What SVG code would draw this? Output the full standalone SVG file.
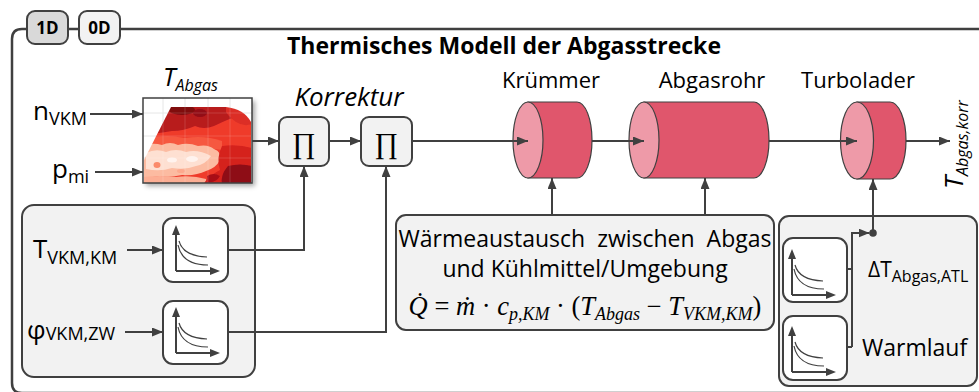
<svg xmlns="http://www.w3.org/2000/svg" xmlns:xlink="http://www.w3.org/1999/xlink" width="979" height="392" viewBox="0 0 979 392">
  <style>
    .ln { fill: none; stroke: #404040; stroke-width: 2; }
    .box { fill: #f2f2f2; stroke: #404040; stroke-width: 2; }
    .wbox { fill: #ffffff; stroke: #404040; stroke-width: 2; }
    .body { fill: #e0566c; stroke: #404040; stroke-width: 1.2; }
    .face { fill: #ee9aa8; stroke: #404040; stroke-width: 1.2; }
    .sans { font-family: 'Open Sans', 'Noto Sans', sans-serif; fill: #000; }
    .lbl { font-size: 22px; }
    .big { font-size: 26px; }
    .sub { font-size: 18px; }
    .it { font-style: italic; }
    .math { font-family: 'Liberation Serif', 'DejaVu Serif', serif; fill: #000; }
  </style>
  <defs>
    <marker id="arr" viewBox="0 0 11 9" refX="11" refY="4.5" markerWidth="11" markerHeight="9" markerUnits="userSpaceOnUse" orient="auto">
      <path d="M0,0 L11,4.5 L0,9 Z" fill="#404040"/>
    </marker>
    <filter id="shadow" x="-10%" y="-10%" width="130%" height="130%">
      <feDropShadow dx="3" dy="3" stdDeviation="2.5" flood-color="#000" flood-opacity="0.35"/>
    </filter>
    <filter id="soft" x="-5%" y="-5%" width="110%" height="110%">
      <feGaussianBlur stdDeviation="0.6"/>
    </filter>
    <clipPath id="mapclip">
      <path d="M171,107 L226,107 Q244,109 251,122 L251,183 L144,183 L144,160 Z"/>
    </clipPath>
    <!-- map grid -->
    <path id="grid" d="M163,98 V183 M185,98 V183 M208,98 V183 M230,98 V183 M143,113 H252 M143,136 H252 M143,158 H252"/>
    <!-- characteristic curve icon, origin at the axis corner -->
    <g id="axes">
      <path d="M0,0 V-38 M0,0 H34" fill="none" stroke="#404040" stroke-width="2"/>
      <path d="M0,-46 L-4,-36 L4,-36 Z M44,0 L34,-4 L34,4 Z" fill="#404040"/>
      <path d="M3,-30 Q7,-15 31,-14 M2,-26 Q6,-6 32,-6" fill="none" stroke="#404040" stroke-width="1.2"/>
    </g>
  </defs>

  <rect width="979" height="392" fill="#ffffff"/>

  <!-- outer frame with tabs -->
  <g id="frame">
    <path d="M979,29 H22 Q12,29 12,39 V383 Q12,393 22,393 H979" fill="none" stroke="#404040" stroke-width="2.5"/>
    <rect x="27" y="11" width="41" height="33" rx="8" fill="#d9d9d9" stroke="#404040" stroke-width="2"/>
    <text x="47.5" y="34" text-anchor="middle" class="sans" font-size="17" font-weight="bold">1D</text>
    <rect x="79" y="11" width="41" height="33" rx="8" fill="#f2f2f2" stroke="#404040" stroke-width="2"/>
    <text x="99.5" y="34" text-anchor="middle" class="sans" font-size="17" font-weight="bold">0D</text>
    <text x="504" y="54" text-anchor="middle" class="sans" font-size="23" font-weight="bold">Thermisches Modell der Abgasstrecke</text>
  </g>

  <!-- input labels -->
  <g id="in-n">
    <text x="33" y="120" class="sans big">n<tspan class="sub" dy="5">VKM</tspan></text>
  </g>
  <g id="in-p">
    <text x="52" y="178" class="sans big">p<tspan class="sub" dy="5">mi</tspan></text>
  </g>

  <!-- exhaust temperature map -->
  <g id="map">
    <rect x="143" y="98" width="109" height="85" fill="#ffffff" filter="url(#shadow)"/>
    <use xlink:href="#grid" stroke="#e6e6e6" stroke-width="1" fill="none"/>
    <g clip-path="url(#mapclip)">
      <g filter="url(#soft)">
        <rect x="143" y="105" width="110" height="80" fill="#ef3b2c"/>
        <path d="M143,105 H252 V116 Q242,120 232,118 Q222,122 214,126 Q204,130 195,126 Q184,131 172,131 Q158,133 143,136 Z" fill="#b81a1f"/>
        <path d="M226,106 H252 V124 Q244,127 236,122 Q229,117 226,112 Z" fill="#dc2f25"/>
        <ellipse cx="182" cy="110" rx="13" ry="5" fill="#800a10"/>
        <ellipse cx="200" cy="113" rx="7" ry="4" fill="#930d13"/>
        <path d="M143,139 Q165,134 185,138 Q205,135 222,141 L222,150 Q200,146 180,148 Q160,145 143,148 Z" fill="#f6583f"/>
        <path d="M143,146 Q152,142 162,145 Q170,141 178,145 Q188,142 198,146 Q208,144 214,149 Q222,152 220,160 Q216,168 206,171 Q196,176 182,175 Q170,178 158,176 Q150,178 143,177 Z" fill="#fcbba1"/>
        <path d="M146,153 Q156,148 166,152 Q176,148 186,152 Q198,149 211,156 Q206,164 196,166 Q186,170 172,168 Q160,172 146,169 Z" fill="#fee0d2"/>
        <ellipse cx="192" cy="159" rx="6" ry="3" fill="#fff3ee"/>
        <ellipse cx="172" cy="160" rx="5" ry="2.5" fill="#fff3ee"/>
        <ellipse cx="157" cy="165" rx="3.5" ry="3" fill="#fb8a6a"/>
        <ellipse cx="181" cy="171" rx="4" ry="2" fill="#fca98e"/>
        <path d="M143,177 Q160,175 176,177 Q192,175 206,179 L206,185 H143 Z" fill="#fcae94"/>
        <path d="M222,146 Q238,144 252,148 V185 H203 Q208,176 220,170 Q216,158 222,146 Z" fill="#d5221f"/>
        <path d="M228,166 Q240,163 252,166 V185 H222 Q220,175 228,166 Z" fill="#8e0b13"/>
        <path d="M207,176 Q214,172 220,176 Q216,183 208,182 Z" fill="#a80f16"/>
      </g>
      <use xlink:href="#grid" stroke="#ffffff" stroke-opacity="0.15" stroke-width="1" fill="none"/>
    </g>
    <rect x="143" y="98" width="109" height="85" fill="none" stroke="#404040" stroke-width="1.5"/>
    <text x="163" y="86" class="sans it" font-size="25">T<tspan font-size="16" dy="5">Abgas</tspan></text>
  </g>

  <!-- correction products -->
  <g id="korrektur">
    <text x="349" y="106" text-anchor="middle" class="sans it" font-size="26">Korrektur</text>
  </g>
  <g id="prod1">
    <rect x="279" y="117" width="50" height="49" rx="8" class="box"/>
    <text x="304" y="153" text-anchor="middle" class="math" font-size="29">∏</text>
  </g>
  <g id="prod2">
    <rect x="361" y="117" width="51" height="49" rx="8" class="box"/>
    <text x="386.5" y="153" text-anchor="middle" class="math" font-size="29">∏</text>
  </g>

  <!-- left correction group -->
  <g id="korr-gruppe">
    <rect x="22" y="205" width="233" height="172" rx="12" class="box"/>
  </g>
  <g id="kl-temp">
    <rect x="163" y="218" width="65" height="64" rx="10" class="wbox"/>
    <use xlink:href="#axes" x="176" y="271"/>
    <text x="33" y="258" class="sans big">T<tspan class="sub" dy="6">VKM,KM</tspan></text>
  </g>
  <g id="kl-zuend">
    <rect x="163" y="301" width="65" height="63" rx="10" class="wbox"/>
    <use xlink:href="#axes" x="176" y="353"/>
    <text x="27" y="339" class="sans big">φ<tspan class="sub" dy="1">VKM,ZW</tspan></text>
  </g>

  <!-- exhaust line components -->
  <g id="kruemmer">
    <path d="M528,102 H577 A15,38 0 0 1 577,178 H528 Z" class="body"/>
    <ellipse cx="528" cy="140" rx="15" ry="38" class="face"/>
    <text x="551" y="88" text-anchor="middle" class="sans lbl">Krümmer</text>
  </g>
  <g id="abgasrohr">
    <path d="M644,102 H754 A15,38 0 0 1 754,178 H644 Z" class="body"/>
    <ellipse cx="644" cy="140" rx="15" ry="38" class="face"/>
    <text x="712" y="88" text-anchor="middle" class="sans lbl">Abgasrohr</text>
  </g>
  <g id="turbolader">
    <path d="M857,102 H890 A16,38.5 0 0 1 890,179 H857 Z" class="body"/>
    <ellipse cx="857" cy="140.5" rx="16.5" ry="38.5" class="face"/>
    <text x="858" y="88" text-anchor="middle" class="sans lbl">Turbolader</text>
  </g>
  <g id="ausgang">
    <text transform="translate(963,189) rotate(-90)" class="sans it" font-size="26">T<tspan font-size="16" dy="5">Abgas,korr</tspan></text>
  </g>

  <!-- heat exchange -->
  <g id="waermeaustausch">
    <rect x="396" y="215" width="378" height="115" rx="10" class="box"/>
    <text x="585" y="247" text-anchor="middle" class="sans" font-size="23" word-spacing="6">Wärmeaustausch zwischen Abgas</text>
    <text x="585" y="277" text-anchor="middle" class="sans" font-size="23">und Kühlmittel/Umgebung</text>
    <text x="585" y="315" text-anchor="middle" class="math" font-size="26.5"><tspan font-style="italic">Q̇</tspan> = <tspan font-style="italic">ṁ</tspan> · <tspan font-style="italic">c</tspan><tspan font-style="italic" font-size="18" dy="5">p,KM</tspan><tspan dy="-5"> · (</tspan><tspan font-style="italic">T</tspan><tspan font-style="italic" font-size="18" dy="5">Abgas</tspan><tspan dy="-5"> − </tspan><tspan font-style="italic">T</tspan><tspan font-style="italic" font-size="18" dy="5">VKM,KM</tspan><tspan dy="-5">)</tspan></text>
  </g>

  <!-- turbocharger corrections -->
  <g id="atl-gruppe">
    <rect x="779" y="216" width="198" height="170" rx="10" class="box"/>
  </g>
  <g id="kl-atl">
    <rect x="783" y="238" width="64" height="64" rx="10" class="wbox"/>
    <use xlink:href="#axes" x="792" y="295"/>
    <text x="868" y="277" class="sans" font-size="21">ΔT<tspan font-size="16" dy="5">Abgas,ATL</tspan></text>
  </g>
  <g id="kl-warmlauf">
    <rect x="783" y="316" width="64" height="64" rx="10" class="wbox"/>
    <use xlink:href="#axes" x="792" y="372"/>
    <text x="862" y="356" class="sans" font-size="23">Warmlauf</text>
  </g>

  <!-- connectors -->
  <g id="connectors" class="ln">
    <path d="M90,114 H143" marker-end="url(#arr)"/>
    <path d="M95,172 H143" marker-end="url(#arr)"/>
    <path d="M252,141 H279" marker-end="url(#arr)"/>
    <path d="M329,141 H361" marker-end="url(#arr)"/>
    <path d="M412,141 H528" marker-end="url(#arr)"/>
    <path d="M592,141 H644" marker-end="url(#arr)"/>
    <path d="M769,141 H857" marker-end="url(#arr)"/>
    <path d="M906,141 H950" marker-end="url(#arr)"/>
    <path d="M127,250 H163" marker-end="url(#arr)"/>
    <path d="M125,332 H163" marker-end="url(#arr)"/>
    <path d="M228,250 H304 V166" marker-end="url(#arr)"/>
    <path d="M228,332 H386 V166" marker-end="url(#arr)"/>
    <path d="M552,215 V178" marker-end="url(#arr)"/>
    <path d="M705,215 V178" marker-end="url(#arr)"/>
    <path d="M847,269 H852 M847,347 H852"/>
    <path d="M852,347 V233 H869.5" marker-end="url(#arr)"/>
    <path d="M873,233 V179" marker-end="url(#arr)"/>
    <circle cx="873" cy="233" r="3.8" fill="#404040" stroke="none"/>
  </g>
</svg>
